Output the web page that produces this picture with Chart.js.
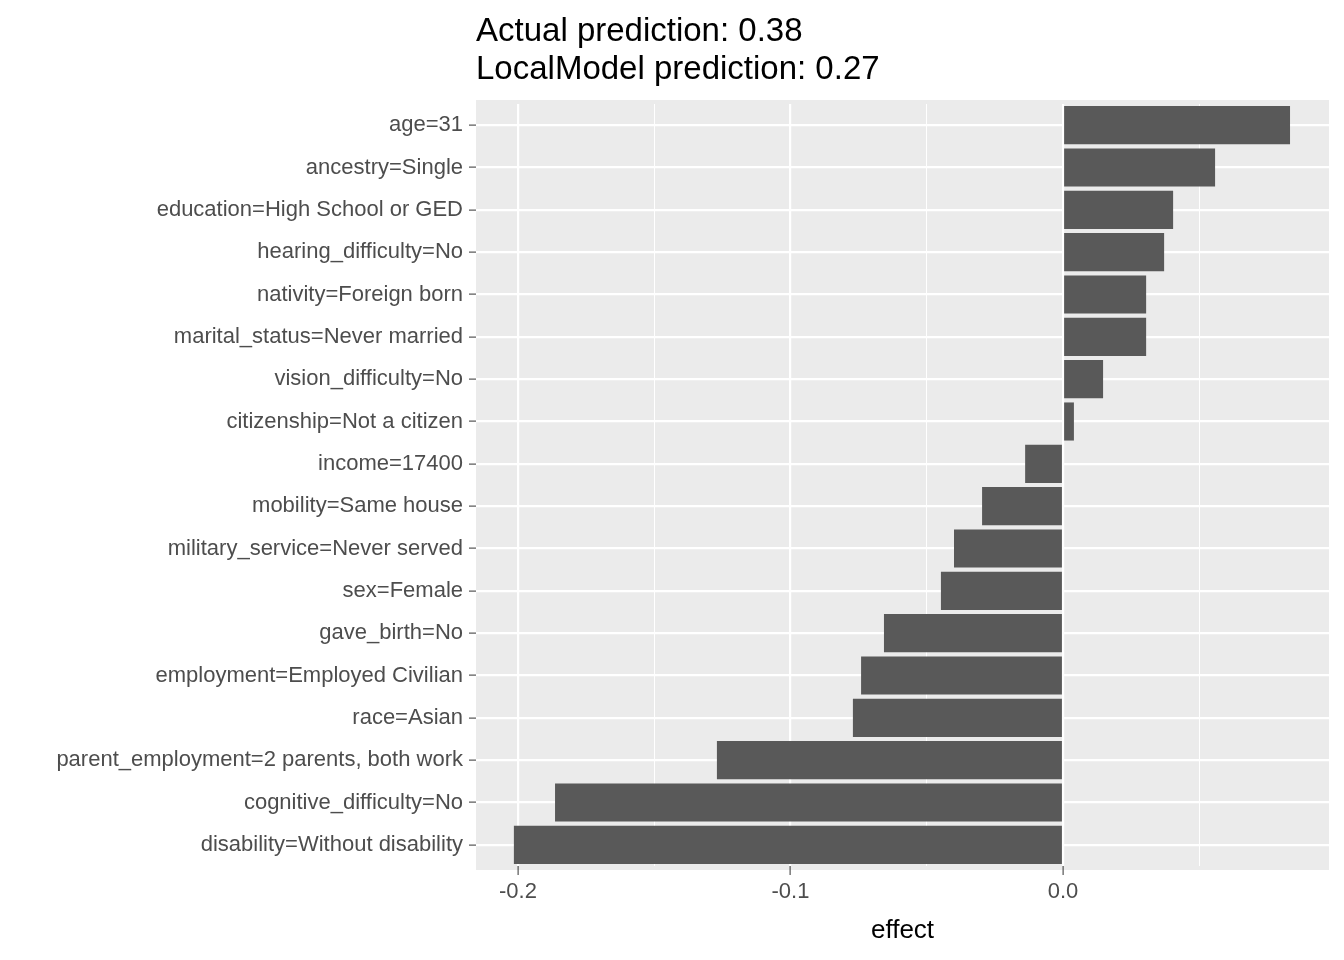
<!DOCTYPE html>
<html><head><meta charset="utf-8">
<script src="https://cdn.jsdelivr.net/npm/chart.js@4"></script>
<style>html,body{margin:0;padding:0;background:#fff}#c{display:block}</style>
</head><body>
<div style="width:1344px;height:960px"><canvas id="c"></canvas></div>
<script>
const categories = ["age=31","ancestry=Single","education=High School or GED","hearing_difficulty=No","nativity=Foreign born","marital_status=Never married","vision_difficulty=No","citizenship=Not a citizen","income=17400","mobility=Same house","military_service=Never served","sex=Female","gave_birth=No","employment=Employed Civilian","race=Asian","parent_employment=2 parents, both work","cognitive_difficulty=No","disability=Without disability"];
const effects = [0.0833,0.0558,0.0404,0.0371,0.0305,0.0305,0.0147,0.0040,-0.0139,-0.0297,-0.0400,-0.0448,-0.0657,-0.0741,-0.0771,-0.1270,-0.1864,-0.2015];
const titleLines = ["Actual prediction: 0.38","LocalModel prediction: 0.27"];
const xTicks = [-0.2,-0.15,-0.1,-0.05,0,0.05];
const isMajor = v => Math.abs(v*10 - Math.round(v*10)) < 1e-6;
const F = "'Liberation Sans', Arial, sans-serif";
const bg = {id:'bg',beforeDraw(c){const a=c.chartArea,x=c.ctx;x.save();x.fillStyle='#ebebeb';x.fillRect(a.left,a.top-4,a.right-a.left,a.bottom-a.top+8);x.restore();},
 afterDraw(c){const x=c.ctx;x.save();x.fillStyle='#000';x.font="33px "+F;x.textBaseline='alphabetic';x.fillText(titleLines[0],c.chartArea.left,41);x.fillText(titleLines[1],c.chartArea.left,79);x.restore();}};
new Chart(document.getElementById('c'),{
 type:'bar',
 data:{labels:categories,datasets:[{data:effects,backgroundColor:'#595959',categoryPercentage:0.9,barPercentage:1}]},
 options:{indexAxis:'y',responsive:true,maintainAspectRatio:false,animation:false,
  layout:{padding:{top:104,right:15,left:0,bottom:0}},
  plugins:{legend:{display:false},tooltip:{enabled:false}},
  scales:{
   x:{min:-0.2154,max:0.0976,
    afterBuildTicks(s){s.ticks=xTicks.map(v=>({value:v}));},
    afterFit(s){s.height=94;},
    border:{display:false},
    grid:{color:'#fff',lineWidth:c=>isMajor(c.tick.value)?2.2:1,tickColor:c=>isMajor(c.tick.value)?'#333':'rgba(0,0,0,0)',tickLength:9,tickWidth:1},
    ticks:{color:'#4d4d4d',font:{size:22,family:F},padding:4,autoSkip:false,maxRotation:0,callback:v=>isMajor(v)?v.toFixed(1):''},
    title:{display:true,text:'effect',color:'#000',font:{size:26,family:F},padding:{top:0,bottom:14}}},
   y:{afterFit(s){s.width=476;},
    border:{display:false},
    grid:{offset:false,color:'#fff',lineWidth:2.2,tickColor:'#333',tickLength:7,tickWidth:1},
    ticks:{color:'#4d4d4d',font:{size:22,family:F},padding:6,autoSkip:false}}
  }},
 plugins:[bg]
});
</script></body></html>
